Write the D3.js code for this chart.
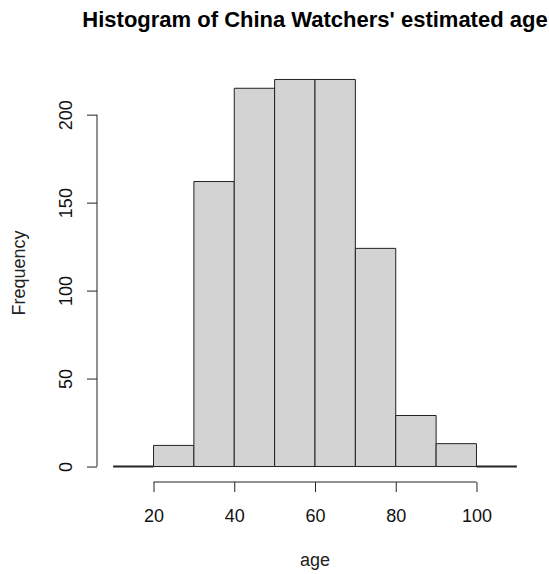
<!DOCTYPE html>
<html>
<head>
<meta charset="utf-8">
<script src="https://cdn.jsdelivr.net/npm/d3@7"></script>
<style>
  body { margin: 0; background: #fff; }
  text { font-family: "Liberation Sans", Arial, sans-serif; }
</style>
</head>
<body>
<script>
// histogram bins (lower, upper) and counts
var binStarts = [10, 20, 30, 40, 50, 60, 70, 80, 90, 100];
var binWidth = 10;
var counts = [0, 12, 162, 215, 220, 220, 124, 29, 13, 0];
var xTicks = [20, 40, 60, 80, 100];
var yTicks = [0, 50, 100, 150, 200];

var W = 549, H = 574;
// plot region in pixels
var plot = {left: 97, right: 533, top: 64, bottom: 482};

var svg = d3.select("body").append("svg")
  .attr("width", W)
  .attr("height", H);

// R style 4% extension of the data range
var xMin = d3.min(binStarts), xMax = d3.max(binStarts) + binWidth;
var xPad = (xMax - xMin) * 0.04;
var yMaxV = d3.max(counts);
var yPad = yMaxV * 0.04;

var x = d3.scaleLinear()
  .domain([xMin - xPad, xMax + xPad])
  .range([plot.left, plot.right]);

var y = d3.scaleLinear()
  .domain([-yPad, yMaxV + yPad])
  .range([plot.bottom, plot.top]);

var data = binStarts.map(function(b, i) { return {x0: b, x1: b + binWidth, n: counts[i]}; });

// bars (paths so that empty bins still show as a line)
svg.append("g").selectAll("path")
  .data(data)
  .enter()
  .append("path")
  .attr("d", function(d) {
    var l = x(d.x0), r = x(d.x1), t = y(d.n), b = y(0);
    return "M" + l + "," + b + "L" + l + "," + t + "L" + r + "," + t + "L" + r + "," + b + "Z";
  })
  .attr("fill", "#d3d3d3")
  .attr("stroke", "#222")
  .attr("stroke-width", function(d) { return d.n === 0 ? 2 : 1; });

// x axis
var gx = svg.append("g")
  .attr("transform", "translate(0," + plot.bottom + ")")
  .call(d3.axisBottom(x).tickValues(xTicks).tickSize(10).tickPadding(0));
gx.select(".domain").remove();
gx.append("line")
  .attr("x1", x(xTicks[0])).attr("x2", x(xTicks[xTicks.length - 1]))
  .attr("stroke", "#222");
gx.selectAll(".tick line").attr("stroke", "#222");
gx.selectAll(".tick text")
  .attr("y", 40)
  .attr("dy", 0)
  .attr("fill", "#111")
  .attr("font-size", "18px");

// y axis
var gy = svg.append("g")
  .attr("transform", "translate(" + plot.left + ",0)")
  .call(d3.axisLeft(y).tickValues(yTicks).tickSize(10));
gy.select(".domain").remove();
gy.append("line")
  .attr("y1", y(yTicks[0])).attr("y2", y(yTicks[yTicks.length - 1]))
  .attr("stroke", "#222");
gy.selectAll(".tick line").attr("stroke", "#222");
gy.selectAll(".tick text")
  .attr("transform", "rotate(-90)")
  .attr("x", 0)
  .attr("y", -25)
  .attr("dy", 0)
  .attr("text-anchor", "middle")
  .attr("fill", "#111")
  .attr("font-size", "18px");

// title and axis labels
svg.append("text")
  .attr("x", (plot.left + plot.right) / 2)
  .attr("y", 27)
  .attr("text-anchor", "middle")
  .attr("font-size", "22px")
  .attr("font-weight", "bold")
  .attr("fill", "#000")
  .text("Histogram of China Watchers' estimated age");

svg.append("text")
  .attr("x", (plot.left + plot.right) / 2)
  .attr("y", 566)
  .attr("text-anchor", "middle")
  .attr("font-size", "18px")
  .attr("fill", "#222")
  .text("age");

svg.append("text")
  .attr("transform", "translate(25," + (plot.top + plot.bottom) / 2 + ") rotate(-90)")
  .attr("text-anchor", "middle")
  .attr("font-size", "18px")
  .attr("fill", "#222")
  .text("Frequency");
</script>
</body>
</html>
